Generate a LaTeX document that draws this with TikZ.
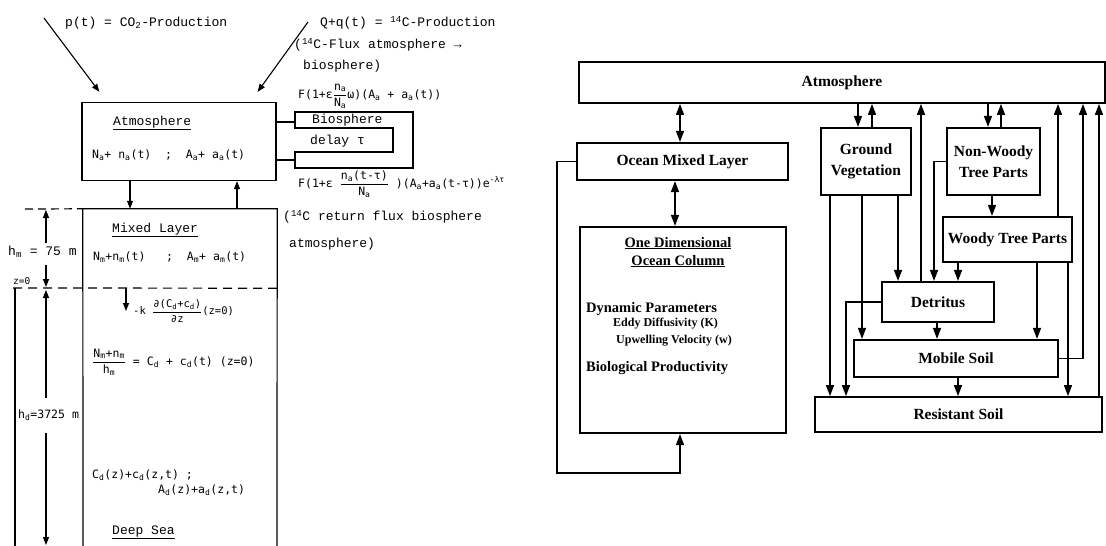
\documentclass[tikz,border=0pt]{standalone}
\usepackage{fontspec}
\setmainfont{Liberation Serif}
\newfontfamily\twf{Liberation Mono}
\newfontfamily\eqf{DejaVu Sans Mono}
\usetikzlibrary{arrows.meta}
\newcommand\myfrac[2]{$\displaystyle{\hbox{#1}\over\hbox{#2}}$}
\begin{document}
\begin{tikzpicture}[x=1pt,y=-1pt,
  tw/.style={font=\twf\fontsize{13}{15}\selectfont, anchor=west, inner sep=0},
  eq/.style={font=\eqf\fontsize{11.5}{13}\selectfont, anchor=west, inner sep=0},
  lbox/.style={draw, line width=1.2pt, inner sep=0},
  lline/.style={line width=1.2pt},
  larr/.style={line width=1.1pt, -{Triangle[length=8pt,width=6pt]}},
  rbox/.style={draw, line width=2.2pt, inner sep=0, font=\bfseries\fontsize{15.5}{21}\selectfont, align=center},
  rt/.style={font=\bfseries\fontsize{14.5}{17}\selectfont, inner sep=0},
  rts/.style={font=\bfseries\fontsize{12}{14}\selectfont, inner sep=0, anchor=west},
  rarr/.style={line width=1.5pt, -{Triangle[length=11pt,width=8pt]}},
  rdarr/.style={line width=1.5pt, {Triangle[length=11pt,width=8pt]}-{Triangle[length=11pt,width=8pt]}},
]
\useasboundingbox (0,0) rectangle (1106,546);

% ---------------- left diagram ----------------
\node[lbox, minimum width=194pt, minimum height=78pt] (atmL) at (179,141.5) {};
\node[minimum width=194pt, minimum height=79pt, inner sep=0] (mix) at (180,248.5) {};

\node[tw] (pt) at (65,23) {p(t) = CO\textsubscript{2}-Production};
\node[tw] (qt) at (320,23) {Q+q(t) = \textsuperscript{14}C-Production};
\node[tw] at (294,45) {(\textsuperscript{14}C-Flux atmosphere →};
\node[tw] at (303,66) {biosphere)};
\coordinate (pS) at (44,18);
\coordinate (qS) at (308,22);
\draw[larr] (pS) -- ([shift={(18,-10)}]atmL.north west);
\draw[larr] (qS) -- ([shift={(-19,-10)}]atmL.north east);

\node[tw, anchor=base west] at (113,125) {\underline{Atmosphere}};
\node[eq] at (92,155) {N\textsubscript{a}+ n\textsubscript{a}(t) \ ; \ A\textsubscript{a}+ a\textsubscript{a}(t)};

% biosphere
\draw[lline] (295,128) -- (295,112) -- (413,112) -- (413,168) -- (295,168) -- (295,152) -- (393,152) -- (393,128) -- cycle;
\coordinate (bioA) at (295,122);
\coordinate (bioB) at (295,160);
\draw[lline] (atmL.east |- bioA) -- (bioA);
\draw[lline] (atmL.east |- bioB) -- (bioB);
\node[tw] at (312,120) {Biosphere};
\node[tw] at (310,141) {delay τ};
\node[eq] at (298,96) {F(1+ε\myfrac{n\textsubscript{a}}{N\textsubscript{a}}ω)(A\textsubscript{a} + a\textsubscript{a}(t))};
\node[eq] at (298,184) {F(1+ε \myfrac{n\textsubscript{a}(t-τ)}{N\textsubscript{a}} )(A\textsubscript{a}+a\textsubscript{a}(t-τ))e\textsuperscript{-λτ}};
\node[tw] at (283,217) {(\textsuperscript{14}C return flux biosphere};
\node[tw] at (289,244) {atmosphere)};

% atmosphere <-> mixed layer
\draw[larr] (atmL.south -| 130,0) -- (mix.north -| 130,0);
\draw[larr] (mix.north -| 237,0) -- (atmL.south -| 237,0);

% ocean column outline
\draw[lline] (83,546) -- (mix.north west) -- (mix.north east) -- (277,546);
\draw[lline, dash pattern=on 8pt off 5pt] (25,209) -- (mix.north west);
\draw[lline, dash pattern=on 9pt off 6pt] (13,288) -- (mix.south east);
\draw[lline] (15,288) -- (15,546);

\node[tw, anchor=base west] at (112,232) {\underline{Mixed Layer}};
\node[eq] at (93,257) {N\textsubscript{m}+n\textsubscript{m}(t) \ \ ; \ A\textsubscript{m}+ a\textsubscript{m}(t)};

% dimensions
\draw[larr] (46,243) -- (46,210);
\draw[larr] (46,265) -- (46,287);
\node[tw] at (8,252) {h\textsubscript{m} = 75 m};
\node[eq, font=\eqf\fontsize{9.5}{11}\selectfont] at (13,281) {z=0};
\draw[larr] (46,398) -- (46,290);
\draw[larr] (46,433) -- (46,545);
\node[eq] at (18,415) {h\textsubscript{d}=3725 m};

% deep sea
\draw[larr] (126,288) -- (126,311);
\node[eq, font=\eqf\fontsize{10.5}{12}\selectfont] at (133,311) {-k \myfrac{∂(C\textsubscript{d}+c\textsubscript{d})}{∂z}(z=0)};
\node[eq] at (92,362) {\myfrac{N\textsubscript{m}+n\textsubscript{m}}{h\textsubscript{m}} = C\textsubscript{d} + c\textsubscript{d}(t) (z=0)};
\node[eq] at (92,475) {C\textsubscript{d}(z)+c\textsubscript{d}(z,t) ;};
\node[eq] at (158,490) {A\textsubscript{d}(z)+a\textsubscript{d}(z,t)};
\node[tw, anchor=base west] at (112,534) {\underline{Deep Sea}};

% ---------------- right diagram ----------------
\node[rbox, line width=1.8pt, minimum width=526pt, minimum height=41pt] (atm) at (842,82.5) {Atmosphere};
\node[rbox, minimum width=211pt, minimum height=37pt] (oml) at (682.5,161.5) {Ocean Mixed Layer};
\node[rbox, minimum width=206pt, minimum height=206pt] (col) at (683,330) {};
\node[rbox, minimum width=90pt, minimum height=67pt] (gv) at (866,161.5) {Ground\\Vegetation};
\node[rbox, minimum width=93pt, minimum height=67pt] (nw) at (993.5,161.5) {Non-Woody\\Tree Parts};
\node[rbox, minimum width=129pt, minimum height=45pt] (wt) at (1007.5,239.5) {Woody Tree Parts};
\node[rbox, minimum width=112pt, minimum height=40pt] (det) at (938,302) {Detritus};
\node[rbox, minimum width=204pt, minimum height=37pt] (ms) at (956,358.5) {Mobile Soil};
\node[rbox, line width=1.8pt, minimum width=287pt, minimum height=35pt] (rs) at (958.5,414.5) {Resistant Soil};

\node[rt, anchor=base] at (678,247) {\underline{One Dimensional}};
\node[rt, anchor=base] at (678,265) {\underline{Ocean Column}};
\node[rt, anchor=west] at (586,309) {Dynamic Parameters};
\node[rts] at (613,324) {Eddy Diffusivity (K)};
\node[rts] at (616,341) {Upwelling Velocity (w)};
\node[rt, anchor=west] at (586,368) {Biological Productivity};

% ocean connectors
\draw[rdarr] (atm.south -| 680,0) -- (oml.north -| 680,0);
\draw[rdarr] (oml.south -| 675,0) -- (col.north -| 675,0);
\draw[rarr] (oml.west) -- (557,161.5) -- (557,473) -- (680,473) -- (col.south -| 680,0);

% terrestrial connectors
\draw[rarr] (atm.south -| 858,0) -- (gv.north -| 858,0);
\draw[rarr] (gv.north -| 872,0) -- (atm.south -| 872,0);
\draw[rarr] (det.north -| 921,0) -- (atm.south -| 921,0);
\draw[rarr] (atm.south -| 988,0) -- (nw.north -| 988,0);
\draw[rarr] (nw.north -| 1001,0) -- (atm.south -| 1001,0);
\draw[rarr] (wt.north -| 1058,0) -- (atm.south -| 1058,0);
\draw[rarr] (ms.east) -| (atm.south -| 1083,0);
\draw[rarr] (rs.north -| 1099,0) -- (atm.south -| 1099,0);

\draw[rarr] (gv.south -| 898,0) -- (det.north -| 898,0);
\draw[rarr] (gv.south -| 862,0) -- (ms.north -| 862,0);
\draw[rarr] (gv.south -| 830,0) -- (rs.north -| 830,0);
\draw[rarr] (nw.south -| 992,0) -- (wt.north -| 992,0);
\draw[rarr] (nw.west) -| (det.north -| 934,0);
\draw[rarr] (wt.south -| 958,0) -- (det.north -| 958,0);
\draw[rarr] (wt.south -| 1037,0) -- (ms.north -| 1037,0);
\draw[rarr] (wt.south -| 1068,0) -- (rs.north -| 1068,0);
\draw[rarr] (det.west) -| (rs.north -| 846,0);
\draw[rarr] (det.south -| 937,0) -- (ms.north -| 937,0);
\draw[rarr] (ms.south -| 958,0) -- (rs.north -| 958,0);
\end{tikzpicture}
\end{document}
